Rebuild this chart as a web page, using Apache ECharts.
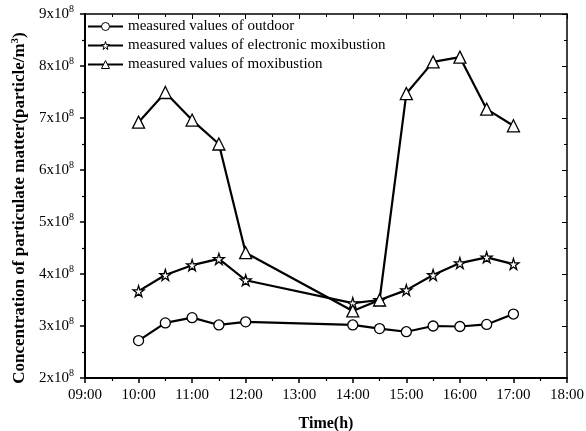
<!DOCTYPE html>
<html>
<head>
<meta charset="utf-8">
<script src="https://cdn.jsdelivr.net/npm/echarts@6/dist/echarts.min.js"></script>
<style>
  html, body { margin: 0; padding: 0; background: #fff; }
  #chart { width: 586px; height: 431px; }
</style>
</head>
<body>
<div id="chart"></div>
<script>
// hours of day
var times = [10, 10.5, 11, 11.5, 12, 14, 14.5, 15, 15.5, 16, 16.5, 17];
// values in units of 10^8 particle/m3
var outdoor = [2.72, 3.06, 3.16, 3.02, 3.08, 3.02, 2.95, 2.89, 3.0, 2.99, 3.03, 3.23];
var electronic = [3.67, 3.98, 4.17, 4.29, 3.88, 3.44, 3.5, 3.69, 3.98, 4.21, 4.32, 4.19];
var moxibustion = [6.92, 7.49, 6.96, 6.5, 4.41, 3.29, 3.5, 7.47, 8.08, 8.17, 7.17, 6.85];
var seriesNames = ['measured values of outdoor', 'measured values of electronic moxibustion', 'measured values of moxibustion'];

var starPath = 'path://M50,0 L61,35 L98,35 L68,57 L79,91 L50,70 L21,91 L32,57 L2,35 L39,35 Z';
var font = 'Liberation Serif';

function pairs(vals) {
  return vals.map(function (v, i) { return [times[i], v]; });
}

function makeSeries(name, vals, symbol, size) {
  return {
    name: name,
    type: 'line',
    data: pairs(vals),
    symbol: symbol,
    symbolSize: size,
    lineStyle: { color: '#000', width: 2.2 },
    itemStyle: { color: '#fff', borderColor: '#000', borderWidth: 1.3 },
    emphasis: { disabled: true },
    z: 3
  };
}

var chart = echarts.init(document.getElementById('chart'));
chart.setOption({
  animation: false,
  backgroundColor: '#fff',
  textStyle: { fontFamily: font, color: '#000' },
  grid: { left: 85, right: 19, top: 14, bottom: 53, outerBoundsMode: 'none', containLabel: false },
  legend: {
    orient: 'vertical',
    left: 87,
    top: 19,
    padding: 0,
    itemWidth: 35,
    itemHeight: 10,
    itemGap: 4,
    textStyle: { fontFamily: font, fontSize: 15, color: '#000' },
    data: seriesNames.map(function (n) {
      return { name: n, itemStyle: { color: '#fff', borderColor: '#000', borderWidth: 1 } };
    })
  },
  graphic: [{
    type: 'text',
    x: 20, y: 208,
    rotation: Math.PI / 2,
    style: {
      text: 'Concentration of particulate matter(particle/m{s|3})',
      font: 'bold 17px "Liberation Serif"',
      fill: '#000',
      align: 'center',
      verticalAlign: 'middle',
      rich: { s: { fontFamily: font, fontSize: 11, fontWeight: 'bold', padding: [0, 0, 9, 0] } }
    }
  }],
  xAxis: [{
    type: 'value',
    min: 9, max: 18, interval: 1,
    name: 'Time(h)',
    nameLocation: 'middle',
    nameGap: 38,
    nameTextStyle: { fontFamily: font, fontSize: 16, fontWeight: 'bold', color: '#000' },
    axisLine: { lineStyle: { color: '#000', width: 2 } },
    axisTick: { inside: false, length: 5, lineStyle: { color: '#000', width: 1.5 } },
    minorTick: { show: true, splitNumber: 2, length: 3, lineStyle: { color: '#000', width: 1.2 } },
    splitLine: { show: false },
    axisLabel: {
      fontFamily: font, fontSize: 15, color: '#000', margin: 10,
      formatter: function (v) { return (v < 10 ? '0' : '') + v + ':00'; }
    }
  }, {
    type: 'value',
    position: 'top',
    min: 9, max: 18, interval: 1,
    axisLine: { lineStyle: { color: '#000', width: 1.5 } },
    axisTick: { inside: true, length: 5, lineStyle: { color: '#000' } },
    minorTick: { show: true, splitNumber: 2, length: 3, lineStyle: { color: '#000' } },
    splitLine: { show: false },
    axisLabel: { show: false }
  }],
  yAxis: [{
    type: 'value',
    min: 2, max: 9, interval: 1,
    axisLine: { show: true, lineStyle: { color: '#000', width: 2 } },
    axisTick: { inside: false, length: 5, lineStyle: { color: '#000', width: 1.5 } },
    minorTick: { show: true, splitNumber: 2, length: 3, lineStyle: { color: '#000', width: 1.2 } },
    splitLine: { show: false },
    axisLabel: {
      color: '#000', margin: 11,
      formatter: function (v) { return '{a|' + v + 'x10}{b|8}'; },
      rich: {
        a: { fontFamily: font, fontSize: 15, color: '#000' },
        b: { fontFamily: font, fontSize: 10, color: '#000', padding: [0, 0, 9, 0] }
      }
    }
  }, {
    type: 'value',
    position: 'right',
    min: 2, max: 9, interval: 1,
    axisLine: { show: true, lineStyle: { color: '#000', width: 1.5 } },
    axisTick: { inside: true, length: 5, lineStyle: { color: '#000' } },
    minorTick: { show: true, splitNumber: 2, length: 3, lineStyle: { color: '#000' } },
    splitLine: { show: false },
    axisLabel: { show: false }
  }],
  series: [
    makeSeries(seriesNames[0], outdoor, 'circle', 10),
    makeSeries(seriesNames[1], electronic, starPath, 11),
    makeSeries(seriesNames[2], moxibustion, 'triangle', 12)
  ]
});
</script>
</body>
</html>
